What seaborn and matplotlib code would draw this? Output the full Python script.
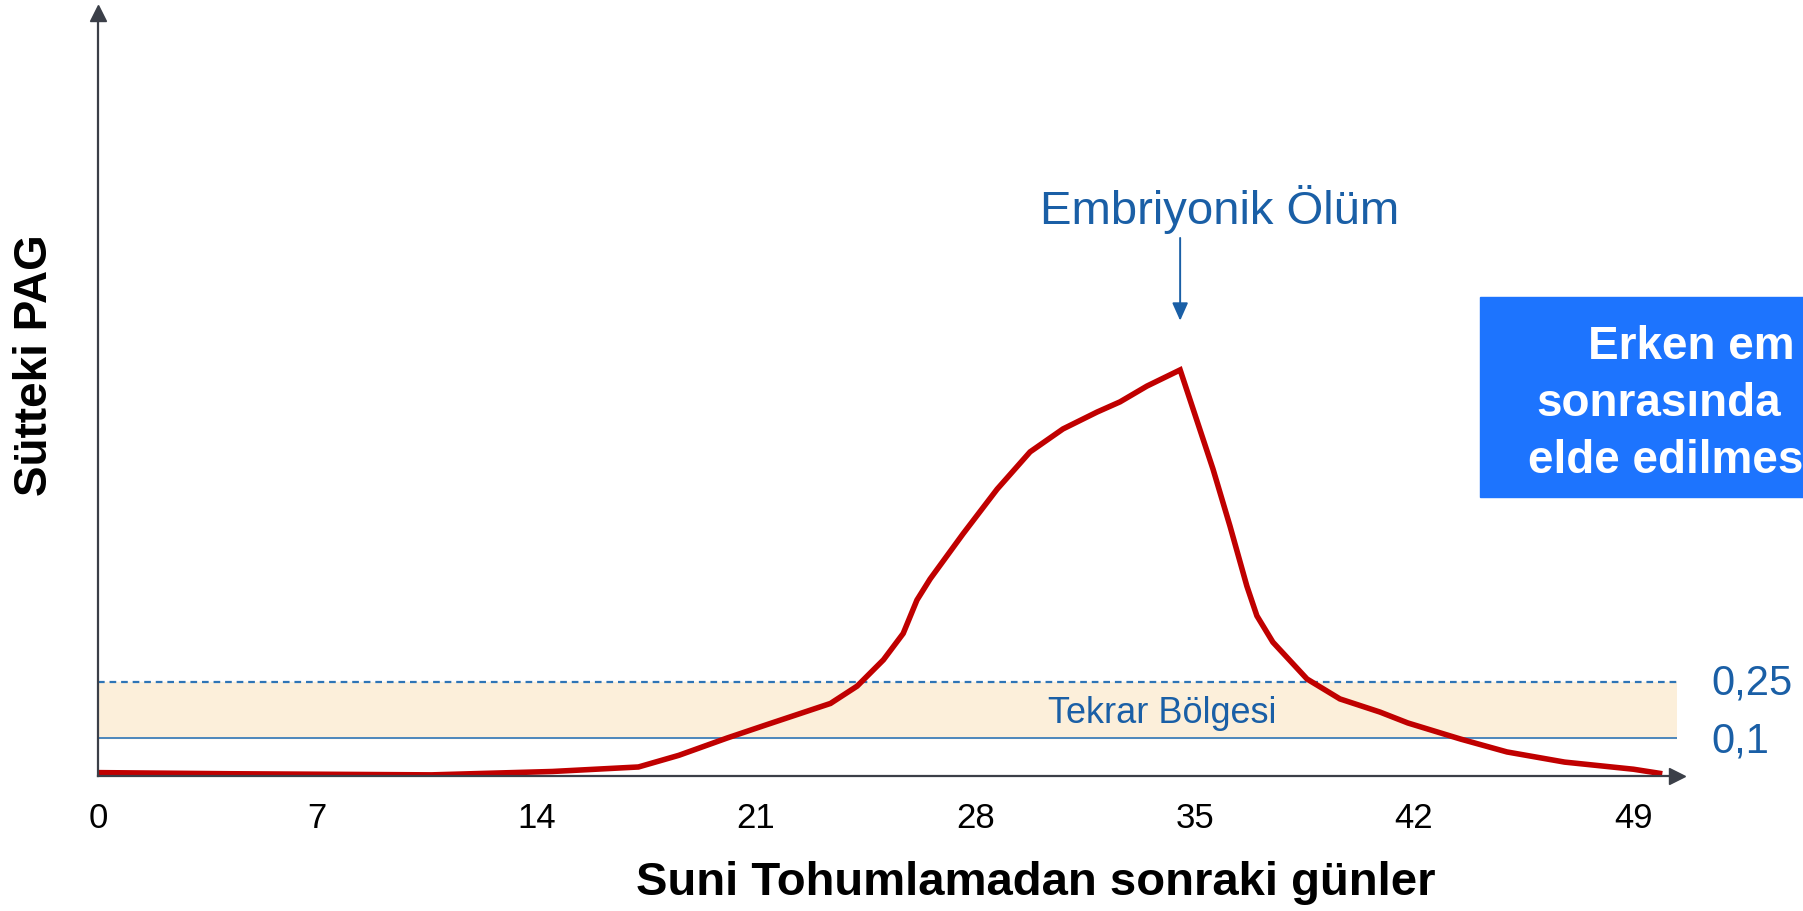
import numpy as np
import pandas as pd
import matplotlib.pyplot as plt
import seaborn as sns
from matplotlib.patches import Rectangle

# days after insemination vs PAG in milk (schematic)
days = [0, 4.22, 10.65, 14.50, 17.25, 18.54, 20.08, 21.29, 23.38, 24.23, 25.07,
        25.70, 26.14, 26.56, 27.61, 28.70, 29.75, 30.80, 31.89, 32.62, 33.48,
        34.54, 35.59, 36.13, 36.67, 36.99, 37.50, 38.59, 39.64, 40.92, 41.81,
        43.50, 44.97, 46.81, 49.01, 49.93]
pag = [0.009, 0.006, 0.003, 0.012, 0.024, 0.055, 0.101, 0.135, 0.193, 0.239, 0.309,
       0.379, 0.468, 0.524, 0.644, 0.763, 0.862, 0.923, 0.968, 0.995, 1.037,
       1.080, 0.816, 0.665, 0.505, 0.426, 0.356, 0.258, 0.205, 0.170, 0.141,
       0.098, 0.064, 0.037, 0.018, 0.006]
tick_days = [0, 7, 14, 21, 28, 35, 42, 49]
lower, upper = 0.1, 0.25
death_day = 34.54

df = pd.DataFrame({"gun": days, "pag": pag})

sns.set_theme(style="white")
plt.rcParams['font.family'] = ['Liberation Sans', 'DejaVu Sans']

blue = '#1A5FA6'
line_blue = '#2E75B6'
axis_col = '#3B3F48'

fig = plt.figure(figsize=(18.03, 9.12), dpi=100)
ax = fig.add_axes([98 / 1803, 135 / 912, 1579 / 1803, 763 / 912])
xmax = 1579 / 31.33
ymax = 763 / 376
ax.set_xlim(0, xmax)
ax.set_ylim(0, ymax)

# repeat zone
ax.axhspan(lower, upper, color='#FCEFDA', zorder=0)
ax.axhline(upper, color=line_blue, lw=1.6, ls=(0, (3, 2.2)), zorder=1)
ax.axhline(lower, color=line_blue, lw=1.2, zorder=1)

sns.lineplot(data=df, x="gun", y="pag", ax=ax, color='#C00000', lw=4.0,
             zorder=3, solid_joinstyle='miter', solid_capstyle='butt')

# axes with arrows
for s in ['top', 'right']:
    ax.spines[s].set_visible(False)
for s in ['left', 'bottom']:
    ax.spines[s].set_color(axis_col)
    ax.spines[s].set_linewidth(1.6)
    ax.spines[s].set_zorder(4)
ax.plot(1, 0, '>', color=axis_col, ms=11, transform=ax.transAxes, clip_on=False, zorder=5)
ax.plot(0, 1, '^', color=axis_col, ms=11, transform=ax.transAxes, clip_on=False, zorder=5)

ax.set_xticks(tick_days)
ax.set_xticklabels([str(d) for d in tick_days])
ax.set_yticks([])
ax.tick_params(axis='x', length=0, pad=18, labelsize=25, labelcolor='black')

ax.set_xlabel('Suni Tohumlamadan sonraki günler', fontsize=34, fontweight='bold', color='black')
ax.xaxis.set_label_coords(0.5938, -0.139)
ax.xaxis.label.set_va('center')
ax.set_ylabel('Sütteki PAG', fontsize=33, fontweight='bold', color='black')
ax.yaxis.set_label_coords(-0.0399, 0.54)
ax.yaxis.label.set_va('center')

# annotations
ax.annotate('', xy=(death_day, 1.211), xytext=(death_day, 1.431),
            arrowprops=dict(arrowstyle='-|>,head_length=0.9,head_width=0.4',
                            color=blue, lw=1.4, shrinkA=0, shrinkB=0))
ax.text(35.79, 1.508, 'Embriyonik Ölüm', fontsize=34, color=blue, ha='center', va='center')
ax.text(33.96, 0.168, 'Tekrar Bölgesi', fontsize=26, color=blue, ha='center', va='center')
ax.text(51.5, upper, '0,25', fontsize=30, color=blue, ha='left', va='center', clip_on=False)
ax.text(51.5, lower - 0.006, '0,1', fontsize=30, color=blue, ha='left', va='center', clip_on=False)

# blue info box (cut by the slide edge)
fig.patches.append(Rectangle((1480 / 1803, 414 / 912), 0.2, 200 / 912,
                             transform=fig.transFigure, color='#1D74FE', zorder=0))
box_lines = [('Erken em', 1588, 359), ('sonrasında', 1536, 416), ('elde edilmes', 1528, 473)]
for txt, px, py in box_lines:
    fig.text(px / 1803, (912 - py) / 912, txt, color='white', fontsize=33,
             fontweight='bold', ha='left', va='baseline')

plt.savefig('out.png', dpi=100)
